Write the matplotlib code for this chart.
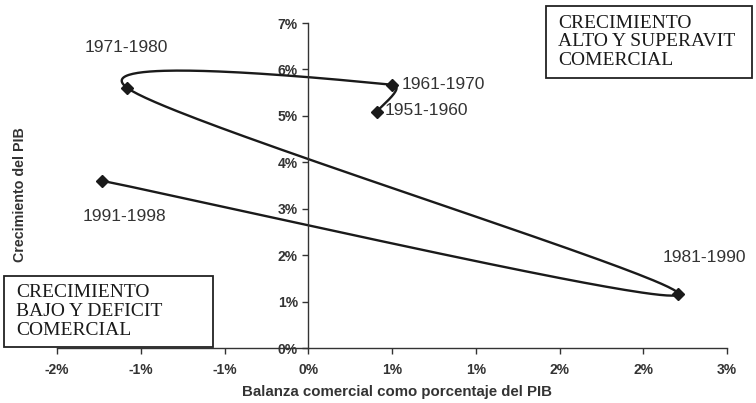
import numpy as np
import matplotlib
matplotlib.use("Agg")
import matplotlib.pyplot as plt
from matplotlib.patches import Rectangle
from matplotlib.ticker import FixedLocator, FuncFormatter

# datos (balanza comercial % PIB, crecimiento PIB %)
periodos = ["1951-1960", "1961-1970", "1971-1980", "1981-1990", "1991-1998"]
balanza = [0.41, 0.50, -1.08, 2.21, -1.23]
crecimiento = [5.09, 5.67, 5.60, 1.16, 3.60]

x_ticks = [-1.5, -1.0, -0.5, 0.0, 0.5, 1.0, 1.5, 2.0, 2.5]
x_tick_labels = ["-2%", "-1%", "-1%", "0%", "1%", "1%", "2%", "2%", "3%"]
y_ticks = [0, 1, 2, 3, 4, 5, 6, 7]

# desplazamiento de las etiquetas (pixeles)
desplaz = [(8, 1), (10, 0), (-1, 41), (26, 37), (22, -36)]
alineacion = ["left", "left", "center", "center", "center"]

plt.rcParams['font.family'] = ['Liberation Sans', 'DejaVu Sans']

fig = plt.figure(figsize=(7.56, 4.03), dpi=100)
ax = fig.add_axes([57/756, 55/403, 670/756, 325/403])
ax.set_xlim(-1.5, 2.5)
ax.set_ylim(0, 7)

ax.spines['left'].set_position(('data', 0))
ax.spines['top'].set_visible(False)
ax.spines['right'].set_visible(False)
for s in ['left', 'bottom']:
    ax.spines[s].set_color('#333333')
    ax.spines[s].set_linewidth(1.0)

ax.xaxis.set_major_locator(FixedLocator(x_ticks))
ax.set_xticklabels(x_tick_labels)
ax.yaxis.set_major_locator(FixedLocator(y_ticks))
ax.yaxis.set_major_formatter(FuncFormatter(lambda v, p: f"{v:.0f}%"))
ax.tick_params(axis='both', direction='out', length=4, width=1, color='#333333',
               labelsize=10, labelcolor='#333333')
ax.tick_params(axis='x', pad=7)
for lab in ax.get_xticklabels() + ax.get_yticklabels():
    lab.set_fontweight('bold')

# curva suavizada (bezier tipo Excel en coordenadas de pantalla)
fig.canvas.draw()
pts = ax.transData.transform(np.column_stack([balanza, crecimiento]))
n = len(pts)
curva = []
t = np.linspace(0, 1, 80)[:, None]


def limitar(v, largo):
    # evita que los tramos cortos se desborden
    m = np.hypot(*v)
    tope = largo / 2
    return v * (tope / m) if m > tope else v


for i in range(n - 1):
    p0 = pts[max(i - 1, 0)]
    p1 = pts[i]
    p2 = pts[i + 1]
    p3 = pts[min(i + 2, n - 1)]
    largo = np.hypot(*(p2 - p1))
    c1 = p1 + limitar((p2 - p0) / 6, largo)
    c2 = p2 - limitar((p3 - p1) / 6, largo)
    seg = (1 - t)**3 * p1 + 3 * (1 - t)**2 * t * c1 + 3 * (1 - t) * t**2 * c2 + t**3 * p2
    curva.append(seg)
curva = ax.transData.inverted().transform(np.vstack(curva))
ax.plot(curva[:, 0], curva[:, 1], color='#1a1a1a', lw=1.7, clip_on=False)
ax.plot(balanza, crecimiento, linestyle='none', marker='D', markersize=6.5,
        color='#1a1a1a', clip_on=False)

for per, bx, cy, (dx, dy), ha in zip(periodos, balanza, crecimiento, desplaz, alineacion):
    ax.annotate(per, (bx, cy), xytext=(dx, dy), textcoords='offset pixels',
                ha=ha, va='center', fontsize=12.5, color='#333333')

fig.text(397/756, 1 - 392/403, "Balanza comercial como porcentaje del PIB", ha='center',
         va='center', fontsize=10.8, fontweight='bold', color='#333333')
fig.text(20/756, 1 - 195/403, "Crecimiento del PIB", rotation=90, ha='center',
         va='center', fontsize=10.3, fontweight='bold', color='#333333')

# cuadros de texto
serif = ['Liberation Serif', 'DejaVu Serif']
for (x0, y0, x1, y1), txt in [((546, 6, 752, 78), "CRECIMIENTO\nALTO Y SUPERAVIT\nCOMERCIAL"),
                              ((4, 276, 213, 347), "CRECIMIENTO\nBAJO Y DEFICIT\nCOMERCIAL")]:
    fig.patches.append(Rectangle((x0/756, 1 - y1/403), (x1 - x0)/756, (y1 - y0)/403,
                                 transform=fig.transFigure, fill=True, facecolor='white',
                                 edgecolor='#222222', lw=1.3, zorder=5))
    fig.text((x0 + 12)/756, 1 - (y0 + y1)/2/403, txt, ha='left', va='center',
             fontsize=14, family=serif, color='#1a1a1a', linespacing=1.12, zorder=6)

fig.savefig("out.png", dpi=100)
